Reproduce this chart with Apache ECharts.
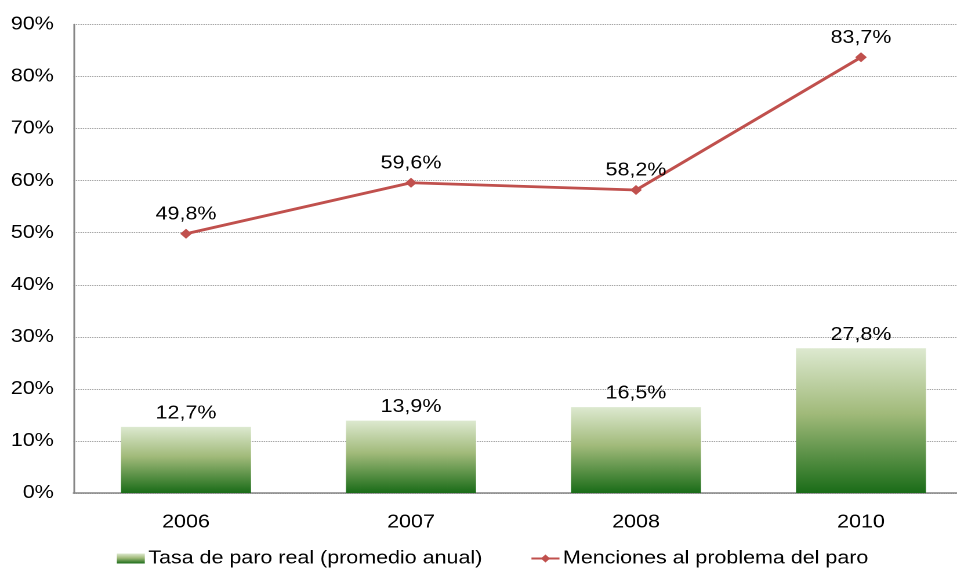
<!DOCTYPE html>
<html><head><meta charset="utf-8">
<script src="https://cdn.jsdelivr.net/npm/echarts@6/dist/echarts.min.js"></script>
<style>
html,body{margin:0;padding:0;background:#fff;overflow:hidden;width:957px;height:570px}
#c{width:840.5px;height:570px;transform:scaleX(1.16);transform-origin:0 0}
</style>
</head><body><div id="c"></div>
<script>
const categories = ['2006', '2007', '2008', '2010'];
const tasaParo = [12.7, 13.9, 16.5, 27.8];
const menciones = [49.8, 59.6, 58.2, 83.7];
const seriesNames = ['Tasa de paro real (promedio anual)', 'Menciones al problema del paro'];
const yTicks = { min: 0, max: 90, interval: 10 };

const S = 1.16; // horizontal stretch of the reference
const fmt = v => v.toFixed(1).replace('.', ',') + '%';
const font = 'Liberation Sans, Arial, sans-serif';
const fs = 18.5;
const chart = echarts.init(document.getElementById('c'), null, { renderer: 'canvas', devicePixelRatio: 2 });
const barGrad = new echarts.graphic.LinearGradient(0, 0, 0, 1, [
  { offset: 0, color: '#dde9d0' },
  { offset: 0.45, color: '#a1ba7a' },
  { offset: 1, color: '#1a6c18' }
]);
chart.setOption({
  animation: false,
  textStyle: { fontFamily: font },
  grid: { left: 73.5 / S, width: 900 / S, top: 24.5, bottom: 77, containLabel: false },
  legend: {
    left: 111 / S, top: 544,
    itemWidth: 28 / S, itemHeight: 10, itemGap: 48 / S,
    textStyle: { fontSize: fs, color: '#000', fontFamily: font, padding: [0, 0, 0, -2] },
    data: [
      { name: seriesNames[0], icon: 'rect' },
      { name: seriesNames[1] }
    ]
  },
  xAxis: {
    type: 'category', data: categories,
    axisLine: { lineStyle: { color: '#868686', width: 1.5 } },
    axisTick: { show: false },
    axisLabel: { fontSize: fs, color: '#000', margin: 20, fontFamily: font }
  },
  yAxis: {
    type: 'value', min: yTicks.min, max: yTicks.max, interval: yTicks.interval,
    axisLine: { show: true, lineStyle: { color: '#868686', width: 1.5 } },
    axisTick: { show: false },
    axisLabel: { fontSize: fs, color: '#000', margin: 17, formatter: '{value}%', fontFamily: font },
    splitLine: { lineStyle: { color: '#a6a6a6', type: [1.2, 0.8], width: 1 } }
  },
  series: [
    {
      name: seriesNames[0], type: 'bar', data: tasaParo, barWidth: 130 / S,
      itemStyle: { color: barGrad },
      label: { show: true, position: 'top', distance: 4, fontSize: fs, color: '#000', fontFamily: font, formatter: p => fmt(p.value) }
    },
    {
      name: seriesNames[1], type: 'line', data: menciones,
      symbol: 'diamond', symbolSize: 10,
      lineStyle: { color: '#c0504d', width: 2.8 },
      itemStyle: { color: '#c0504d' },
      label: { show: true, position: 'top', distance: 5, fontSize: fs, color: '#000', fontFamily: font, formatter: p => fmt(p.value) }
    }
  ]
});
</script></body></html>
